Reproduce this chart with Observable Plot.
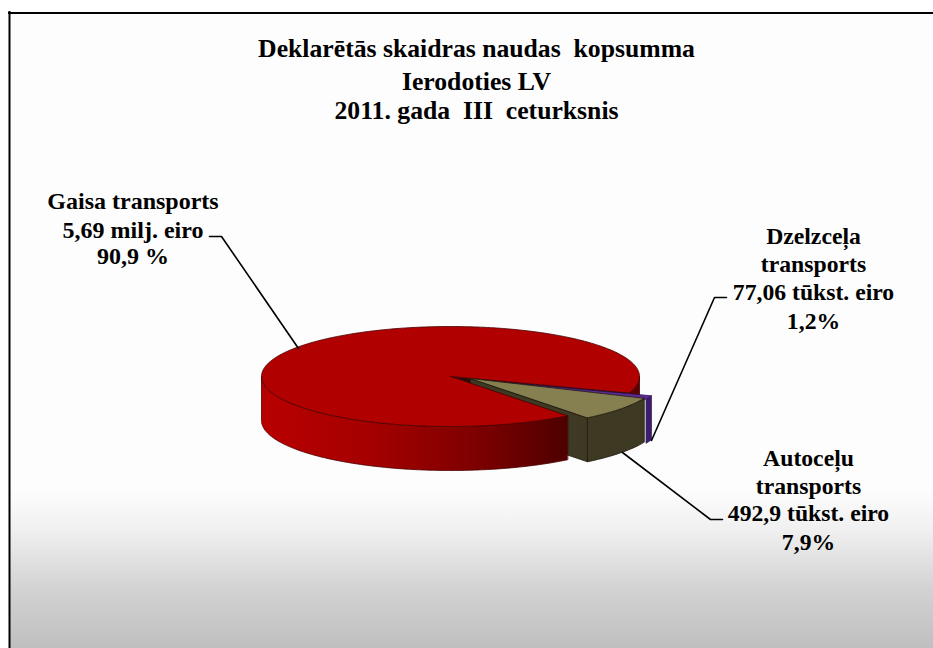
<!DOCTYPE html>
<html><head><meta charset="utf-8">
<style>html,body{margin:0;padding:0;background:#fff;overflow:hidden}svg{display:block}</style>
<script src="https://cdn.jsdelivr.net/npm/d3@7"></script>
<script src="https://cdn.jsdelivr.net/npm/@observablehq/plot@0.6"></script>
</head><body><div id="chart"></div>
<script>
// --- data ---
const categories = ["Dzelzceļa transports", "Autoceļu transports", "Gaisa transports"];
const shares = [1.2, 7.9, 90.9];
const titleLines = ["Deklarētās skaidras naudas  kopsumma", "Ierodoties LV", "2011. gada  III  ceturksnis"];
const gaisaLabel = ["Gaisa transports", "5,69 milj. eiro", "90,9 %"];
const dzelzLabel = ["Dzelzceļa", "transports", "77,06 tūkst. eiro", "1,2%"];
const autoLabel = ["Autoceļu", "transports", "492,9 tūkst. eiro", "7,9%"];

// --- layout (plot units are pixels of the frame) ---
const W = 933, H = 648;
const pie = {cx: 450, cy: 376, rx: 189, ry: 50, depth: 44, start: 19};
const explode = {"Dzelzceļa transports": [22, 3], "Autoceļu transports": [20, 2], "Gaisa transports": [0, 0]};
const col = {
  top: {"Dzelzceļa transports": "#5e2a96", "Autoceļu transports": "#868050", "Gaisa transports": "#b00000"},
  wall: {"Dzelzceļa transports": "#3f1c6e", "Autoceļu transports": "#3d3922", "Gaisa transports": "url(#redSide)"},
  line: {"Dzelzceļa transports": "#2c1450", "Autoceļu transports": "#1f1c10", "Gaisa transports": "#4a0000"}
};

// angular extents derived from the shares
let acc = pie.start;
const arcs = categories.map((name, i) => {
  const a0 = acc; acc += shares[i] * 3.6;
  const [dx, dy] = explode[name];
  return {name, a0, a1: acc, cx: pie.cx + dx, cy: pie.cy + dy};
});
const pt = (s, a, drop = 0) => {
  const t = a * Math.PI / 180;
  return {x: s.cx + pie.rx * Math.cos(t), y: s.cy + pie.ry * Math.sin(t) + drop};
};
const arcPts = (s, a0, a1, drop = 0) => {
  const n = Math.max(2, Math.ceil(Math.abs(a1 - a0)));
  return d3.range(n + 1).map(i => pt(s, a0 + (a1 - a0) * i / n, drop));
};
const topFace = s => [{x: s.cx, y: s.cy}, ...arcPts(s, s.a0, s.a1)];
const sideFace = (s, a0, a1) => [...arcPts(s, a0, a1), ...arcPts(s, a1, a0, pie.depth)];
const cutWall = (s, a) => [{x: s.cx, y: s.cy}, pt(s, a), pt(s, a, pie.depth), {x: s.cx, y: s.cy + pie.depth}];

const [dzelz, auto, gaisa] = arcs;
// the gap left in the large slice by the two pulled-out slices
const gap = {cx: pie.cx, cy: pie.cy, a0: dzelz.a0, a1: auto.a1};

const poly = (points, fill, stroke, sw = 0.8) =>
  Plot.line(points, {x: "x", y: "y", fill, stroke, strokeWidth: sw, curve: "linear-closed", strokeLinejoin: "round"});

const font = "'Liberation Serif','Times New Roman',serif";
const textBlock = (lines, x, ys, size) =>
  Plot.text(lines.map((t, i) => ({t, y: ys[i]})), {
    x: () => x, y: "y", text: "t", fontFamily: font, fontWeight: "bold", fontSize: size,
    fill: "#000", textAnchor: "middle", lineAnchor: "bottom"
  });

const leader = pts => Plot.line(pts.map(([x, y]) => ({x, y})), {x: "x", y: "y", stroke: "#000", strokeWidth: 1.6});

const gradients = () => {
  const ns = "http://www.w3.org/2000/svg";
  const defs = document.createElementNS(ns, "defs");
  const grad = (id, attrs, stops) => {
    const g = document.createElementNS(ns, "linearGradient");
    g.setAttribute("id", id);
    Object.entries(attrs).forEach(([k, v]) => g.setAttribute(k, v));
    stops.forEach(([o, c]) => {
      const s = document.createElementNS(ns, "stop");
      s.setAttribute("offset", o); s.setAttribute("stop-color", c);
      g.appendChild(s);
    });
    defs.appendChild(g);
  };
  grad("bg", {x1: 0, y1: 0, x2: 0, y2: 1}, [[0, "#fdfdfd"], [0.752, "#fdfdfd"], [0.814, "#f0f0f0"], [0.909, "#d2d2d2"], [1, "#bfbfbf"]]);
  grad("redSide", {x1: 0, y1: 0, x2: 1, y2: 0}, [[0, "#b80000"], [0.35, "#a50000"], [0.7, "#7e0000"], [1, "#4e0000"]]);
  return defs;
};

const chart = Plot.plot({
  width: W, height: H, margin: 0,
  x: {domain: [0, W], axis: null},
  y: {domain: [0, H], reverse: true, axis: null},
  marks: [
    gradients,
    Plot.rect([0], {x1: () => 9, x2: () => W, y1: () => 12, y2: () => H, fill: "url(#bg)"}),
    Plot.ruleX([9], {y1: 11, y2: H, stroke: "#000", strokeWidth: 2}),
    Plot.ruleY([12.5], {x1: 8, x2: W, stroke: "#000", strokeWidth: 2}),

    textBlock(titleLines, 476, [56, 89, 118], 25.7),

    // back of the pie seen through the gap
    poly(sideFace(gaisa, 360, gaisa.a1), "#5e0000", "#3a0000"),
    poly(topFace(gap), "#2a0c04", "#2a0c04"),
    // wall of the exploded slices, hidden by the large slice except in the gap
    poly(cutWall(auto, auto.a1), col.wall[auto.name], col.line[auto.name]),
    // large slice
    poly(sideFace(gaisa, gaisa.a0, 180), col.wall[gaisa.name], col.line[gaisa.name]),
    poly(topFace(gaisa), col.top[gaisa.name], col.line[gaisa.name]),
    // small slices
    poly(sideFace(dzelz, dzelz.a0, dzelz.a1), col.wall[dzelz.name], col.line[dzelz.name]),
    poly(topFace(dzelz), col.top[dzelz.name], col.line[dzelz.name]),
    poly(sideFace(auto, auto.a0, auto.a1), col.wall[auto.name], col.line[auto.name]),
    poly(topFace(auto), col.top[auto.name], col.line[auto.name]),

    // leaders
    leader([[209, 236], [221, 236], [298, 348]]),
    leader([[651, 440], [714, 297], [726, 297]]),
    leader([[622, 452], [710, 519], [722, 519]]),

    // labels
    textBlock(gaisaLabel, 132.5, [208, 237, 263], 24),
    textBlock(dzelzLabel, 813, [243, 271, 299, 328], 23.7),
    textBlock(autoLabel, 808, [465, 493, 520, 549], 23.7)
  ]
});
document.getElementById("chart").appendChild(chart);
</script>
</body></html>
